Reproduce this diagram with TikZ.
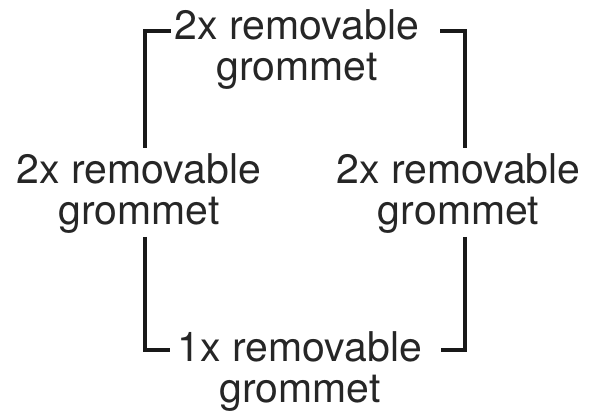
\documentclass[tikz,border=0pt]{standalone}
\usepackage{fontspec}
\setmainfont{TeX Gyre Heros}
\begin{document}
\begin{tikzpicture}[x=1pt,y=-1pt,
  lbl/.style={inner sep=0pt,align=center,font=\fontsize{41}{41}\selectfont,text=black!85},
  bracket/.style={line width=4pt,black!90,line cap=butt,line join=miter}]
\useasboundingbox (0,0) rectangle (589,414);
% labels
\node[lbl] (top) at (297,50) {2x removable\\grommet};
\node[lbl] (left) at (139,194) {2x removable\\grommet};
\node[lbl] (right) at (458.5,194) {2x removable\\grommet};
\node[lbl] (bot) at (300,372) {1x removable\\grommet};
% bracket corners and ends
\coordinate (tlA) at (171,31);
\coordinate (tlC) at (145,31);
\coordinate (tlB) at (145,148);
\coordinate (trA) at (440,31);
\coordinate (trC) at (465,31);
\coordinate (trB) at (465,148);
\coordinate (blA) at (145,237);
\coordinate (blC) at (145,350);
\coordinate (blB) at (170,350);
\coordinate (brA) at (465,237);
\coordinate (brC) at (465,350);
\coordinate (brB) at (441,350);
\draw[bracket] (tlB) -- (tlC) -- (tlA);
\draw[bracket] (trA) -- (trC) -- (trB);
\draw[bracket] (blA) -- (blC) -- (blB);
\draw[bracket] (brA) -- (brC) -- (brB);
\end{tikzpicture}
\end{document}
